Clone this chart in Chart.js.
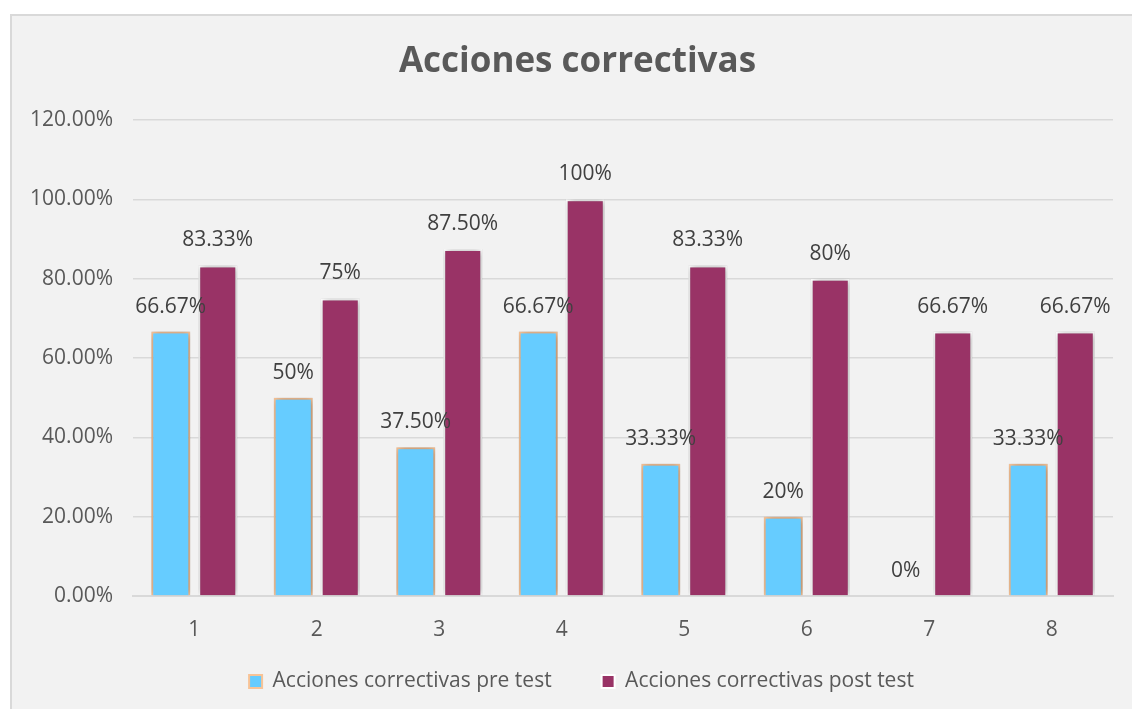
<!DOCTYPE html>
<html>
<head>
<meta charset="utf-8">
<script src="https://cdn.jsdelivr.net/npm/chart.js@4/dist/chart.umd.min.js"></script>
<style>
  html, body { margin: 0; padding: 0; background: #fff; }
  #wrap { width: 1132px; height: 709px; }
</style>
</head>
<body>
<div id="wrap"><canvas id="chart" width="1132" height="709"></canvas></div>
<script>
const categories = ["1", "2", "3", "4", "5", "6", "7", "8"];
const preTest = [66.67, 50, 37.5, 66.67, 33.33, 20, 0, 33.33];
const postTest = [83.33, 75, 87.5, 100, 83.33, 80, 66.67, 66.67];
const preLabels = ["66.67%", "50%", "37.50%", "66.67%", "33.33%", "20%", "0%", "33.33%"];
const postLabels = ["83.33%", "75%", "87.50%", "100%", "83.33%", "80%", "66.67%", "66.67%"];

const FONT = "'Open Sans', sans-serif";

// fondo gris con borde, como el grafico de Excel
const background = {
  id: "background",
  beforeDraw(chart) {
    const c = chart.ctx;
    c.save();
    c.fillStyle = "#ffffff";
    c.fillRect(0, 0, chart.width, chart.height);
    c.fillStyle = "#f2f2f2";
    c.fillRect(10, 14, chart.width, chart.height);
    c.strokeStyle = "#d9d9d9";
    c.lineWidth = 2;
    c.beginPath();
    c.moveTo(11, chart.height);
    c.lineTo(11, 15);
    c.lineTo(chart.width, 15);
    c.stroke();
    c.restore();
  }
};

// titulo y leyenda centrados sobre el marco, no sobre el canvas
const nudge = {
  id: "nudge",
  afterLayout(chart) {
    const l = chart.legend;
    l.left += 25; l.right += 25;
    l.top -= 25; l.bottom -= 25;
    const t = chart.titleBlock;
    t.left += 21; t.right += 21;
  }
};

// sombra suave detras de las barras
const barShadow = {
  id: "barShadow",
  beforeDatasetsDraw(chart) {
    const c = chart.ctx;
    c.save();
    c.shadowColor = "rgba(0,0,0,0.4)";
    c.shadowBlur = 7;
    c.shadowOffsetX = 1;
    c.shadowOffsetY = 0;
  },
  afterDatasetsDraw(chart) {
    chart.ctx.restore();
  }
};

// etiquetas de valor encima de cada barra
const valueLabels = {
  id: "valueLabels",
  afterDatasetsDraw(chart) {
    const c = chart.ctx;
    const texts = [preLabels, postLabels];
    c.save();
    c.font = "21px " + FONT;
    c.fillStyle = "#404040";
    c.textAlign = "center";
    c.textBaseline = "middle";
    chart.data.datasets.forEach((ds, i) => {
      chart.getDatasetMeta(i).data.forEach((bar, j) => {
        c.fillText(texts[i][j], bar.x, bar.y - 25);
      });
    });
    c.restore();
  }
};

new Chart(document.getElementById("chart"), {
  type: "bar",
  data: {
    labels: categories,
    datasets: [
      {
        label: "Acciones correctivas pre test",
        data: preTest,
        backgroundColor: "#66ccff",
        borderColor: "#f8c396",
        borderWidth: 2,
        categoryPercentage: 0.767,
        barPercentage: 0.83,
      },
      {
        label: "Acciones correctivas post test",
        data: postTest,
        backgroundColor: "#993366",
        borderColor: "#ffffff",
        borderWidth: 2,
        categoryPercentage: 0.767,
        barPercentage: 0.83,
      },
    ],
  },
  options: {
    responsive: false,
    animation: false,
    layout: { padding: { left: 0, right: 19, top: 0, bottom: -18 } },
    plugins: {
      title: {
        display: true,
        text: "Acciones correctivas",
        color: "#595959",
        font: { family: FONT, size: 35, weight: "bold" },
        padding: { top: 41, bottom: 37 },
      },
      legend: {
        position: "bottom",
        labels: {
          color: "#595959",
          font: { family: FONT, size: 21 },
          boxWidth: 13,
          boxHeight: 13,
          padding: 50,
        },
      },
      tooltip: { enabled: false },
    },
    scales: {
      x: {
        grid: { display: false },
        border: { color: "#d9d9d9", width: 2 },
        ticks: { color: "#595959", font: { family: FONT, size: 21 }, padding: 13 },
        afterFit(scale) { scale.height = 50; },
      },
      y: {
        min: 0,
        max: 120,
        ticks: {
          stepSize: 20,
          color: "#595959",
          font: { family: FONT, size: 21 },
          padding: 20,
          callback: (v) => v.toFixed(2) + "%",
        },
        grid: { color: "#d9d9d9", lineWidth: 1.5, drawTicks: false },
        border: { display: false },
        afterFit(scale) { scale.width = 133; },
      },
    },
  },
  plugins: [background, nudge, barShadow, valueLabels],
});
</script>
</body>
</html>
